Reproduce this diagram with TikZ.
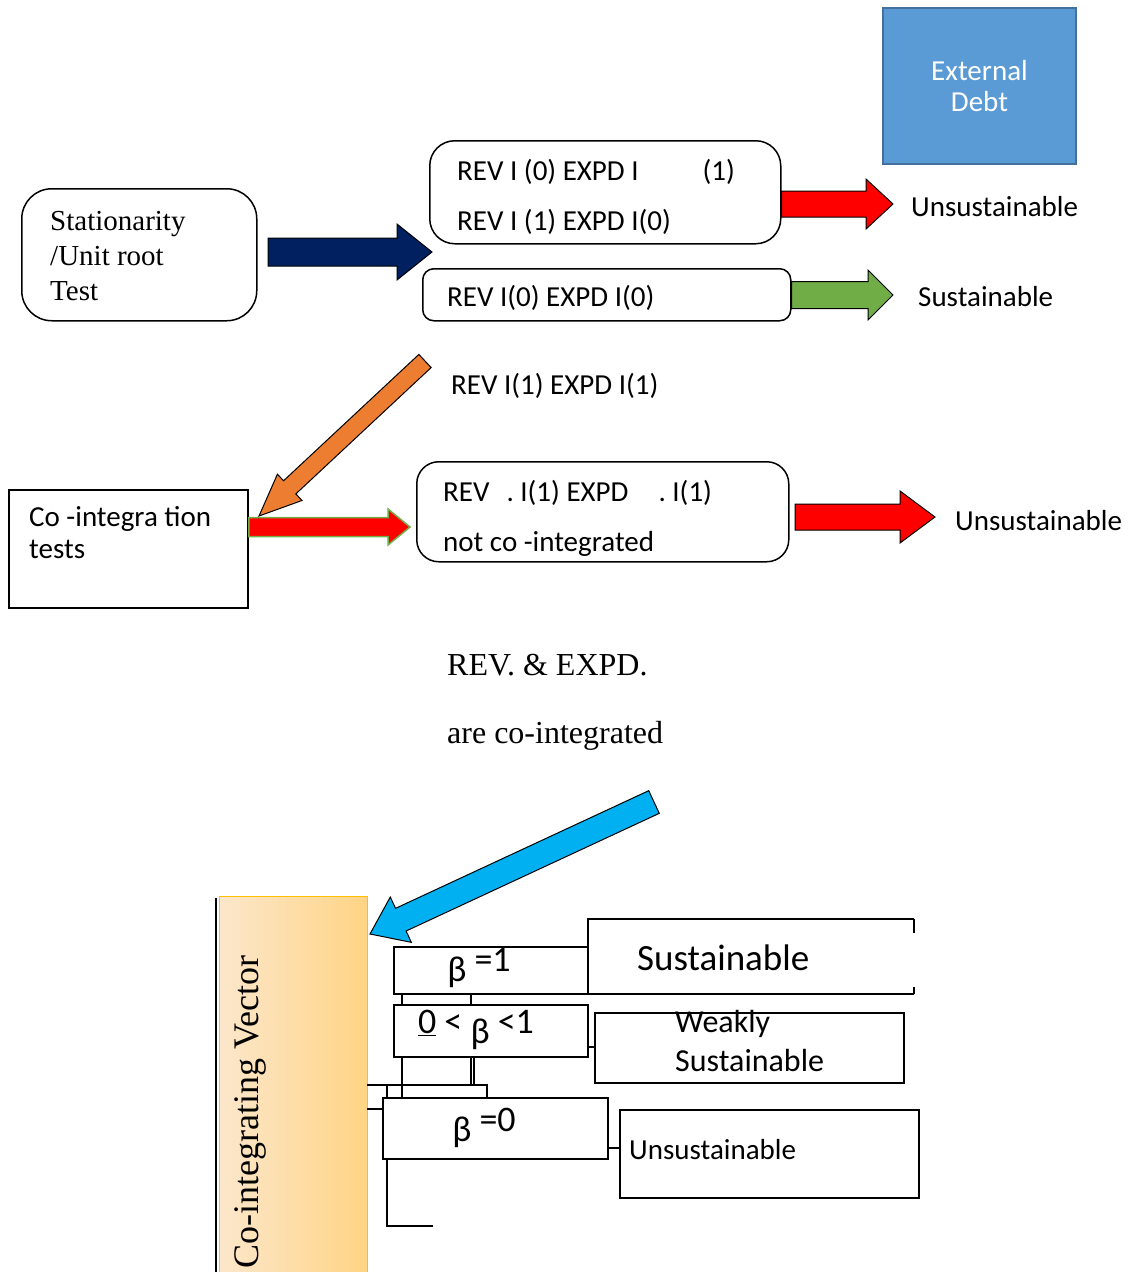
\documentclass[tikz,border=0pt]{standalone}
\usepackage{fontspec}
\setmainfont{Carlito}
\newfontfamily\tnr{Liberation Serif}
\usetikzlibrary{calc, positioning}

\definecolor{navyfill}{HTML}{002060}
\definecolor{debtblue}{HTML}{5B9BD5}
\definecolor{debtedge}{HTML}{41719C}
\definecolor{okgreen}{HTML}{70AD47}
\definecolor{arrorange}{HTML}{ED7D31}
\definecolor{arrcyan}{HTML}{00B0F0}
\definecolor{vecleft}{HTML}{FCE7CB}
\definecolor{vecright}{HTML}{FFD485}
\definecolor{vecedge}{HTML}{FFC000}

% block arrow: style, tail, tip, half shaft, half head, head length
\newcommand{\blockarrow}[6]{%
  \coordinate (ba-base) at ($(#3)!#6!(#2)$);
  \draw[#1] ($(#2)!#4!90:(#3)$) -- ($(ba-base)!#4!-90:(#2)$)
    -- ($(ba-base)!#5!-90:(#2)$) -- (#3) -- ($(ba-base)!#5!90:(#2)$)
    -- ($(ba-base)!#4!90:(#2)$) -- ($(#2)!#4!-90:(#3)$) -- cycle;
}

\tikzset{
  rbox/.style={draw, line width=1.5pt, anchor=north west, inner sep=0pt},
  sqbox/.style={draw, line width=1.8pt, anchor=north west, inner sep=0pt},
  lbl/.style={font=\fontsize{29pt}{35pt}\selectfont, inner sep=0pt},
  twoline/.style={lbl, anchor=west, align=left, font=\fontsize{29pt}{50pt}\selectfont},
  serif/.style={font=\tnr\fontsize{32pt}{37pt}\selectfont, inner sep=0pt},
  beta/.style={font=\fontsize{36pt}{40pt}\selectfont, inner sep=0pt},
}

\begin{document}
\begin{tikzpicture}[x=1pt, y=-1pt, line join=miter]
    \useasboundingbox (0,0) rectangle (1128,1272);

    % --- Debt box ---
    \node[draw=debtedge, fill=debtblue, line width=2pt, minimum width=193pt,
      minimum height=156pt, text=white, align=center,
      font=\fontsize{29pt}{31pt}\selectfont] (debt) at (979.5,86) {External\\Debt};

    % --- Unit root stage ---
    \node[rbox, rounded corners=30pt, minimum width=235pt, minimum height=132pt] (stat) at (21,188) {};
    \node[lbl, anchor=west, align=left, font=\tnr\fontsize{29pt}{35pt}\selectfont]
      (statt) at (50,256) {Stationarity\\/Unit root\\Test};

    \node[rbox, rounded corners=25pt, minimum width=351pt, minimum height=103pt] (rev1) at (429,140) {};
    \node[twoline] (rev1t) at (457,197) {REV I (0) EXPD I\hspace{64pt}(1)\\REV I (1) EXPD I(0)};
    \node[rbox, rounded corners=11pt, minimum width=368pt, minimum height=52pt] (rev2) at (422,268) {};
    \node[lbl, anchor=west] (rev2t) at (447,298) {REV I(0) EXPD I(0)};

    \coordinate (navyT) at (268,252);
    \coordinate (navyH) at (432,252);
    \blockarrow{fill=navyfill, draw=black, line width=1pt}{navyT}{navyH}{14pt}{28pt}{35pt}

    \coordinate (red1T) at (rev1.east |- 0,204);
    \coordinate (red1H) at (893,204);
    \blockarrow{fill=red, draw=black, line width=1pt}{red1T}{red1H}{13pt}{25pt}{27pt}
    \node[lbl, anchor=west] (uns1) at (911,207) {Unsustainable};

    \coordinate (grnT) at (rev2.east |- 0,295);
    \coordinate (grnH) at (893,295);
    \blockarrow{fill=okgreen, draw=black, line width=1pt}{grnT}{grnH}{13.5pt}{25pt}{25pt}
    \node[lbl, anchor=west] (sus1) at (918,297) {Sustainable};

    % --- Co-integration stage ---
    \node[lbl, anchor=west] (rev11) at (451,386) {REV I(1) EXPD I(1)};
    \coordinate (orgT) at (425,361);
    \coordinate (orgH) at (259,516);
    \blockarrow{fill=arrorange, draw=black, line width=1pt}{orgT}{orgH}{9pt}{18pt}{42pt}

    \node[sqbox, minimum width=239pt, minimum height=118pt] (coint) at (8,489) {};
    \node[lbl, anchor=west, align=left, font=\fontsize{29pt}{32pt}\selectfont]
      (ctext) at (29,533) {Co -integra tion\\tests};

    \coordinate (red2T) at (coint.east |- 0,527);
    \coordinate (red2H) at (410,527);
    \blockarrow{fill=red, draw=okgreen, line width=1.5pt}{red2T}{red2H}{9.5pt}{18pt}{22pt}

    \node[rbox, rounded corners=22pt, minimum width=372pt, minimum height=100pt] (rev3) at (416,461) {};
    \node[twoline] (rev3t) at (443,518) {REV\hspace{17pt}. I(1) EXPD\hspace{30pt}. I(1)\\not co -integrated};

    \coordinate (red3T) at (795,517);
    \coordinate (red3H) at (935,517);
    \blockarrow{fill=red, draw=black, line width=1pt}{red3T}{red3H}{13pt}{26pt}{35pt}
    \node[lbl, anchor=west] (uns2) at (955,521) {Unsustainable};

    \node[serif, anchor=west] (coi1) at (447,665) {REV. \& EXPD.};
    \node[serif, anchor=west] (coi2) at (447,736) {are co-integrated};

    % --- Co-integrating vector ---
    \coordinate (cyanT) at (654,802);
    \coordinate (cyanH) at (370,934);
    \blockarrow{fill=arrcyan, draw=black, line width=1pt}{cyanT}{cyanH}{12.5pt}{25pt}{34pt}

    \shade[left color=vecleft, right color=vecright] (219,896) rectangle (367,1280);
    \draw[vecedge, line width=1pt] (219,1280) -- (219,896) -- (367,896) -- (367,1280);
    \draw[line width=1.5pt] (216,898) -- (216,1272);
    \node[anchor=base west, rotate=90, inner sep=0pt,
      font=\tnr\fontsize{36pt}{40pt}\selectfont] (vec) at (258,1269) {Co-integrating Vector};

    \node[sqbox, minimum width=194pt, minimum height=47pt] (b1) at (393,946) {};
    \node[beta] (b1t) at (479,968) {\raisebox{-0.28em}{β} =1};
    \node[sqbox, minimum width=194pt, minimum height=52pt] (b2) at (393,1004) {};
    \node[beta] (b2t) at (476,1030) {\underline{0} < \raisebox{-0.28em}{β} <1};
    \node[sqbox, minimum width=225pt, minimum height=61pt] (b3) at (382,1097) {};
    \node[beta] (b3t) at (484,1128) {\raisebox{-0.28em}{β} =0};

    % --- Outcome boxes ---
    \coordinate (s1nw) at (588,919);
    \coordinate (s1se) at (914,994);
    \draw[line width=1.8pt] (s1nw -| s1se) -- (s1nw) -- (s1nw |- s1se) -- (s1se);
    \draw[line width=1.8pt] (s1nw -| s1se) -- ++(0,14) (s1se) -- ++(0,-7);
    \node[font=\fontsize{37pt}{40pt}\selectfont, inner sep=0pt, anchor=west]
      (s1) at (637,958) {Sustainable};

    \node[sqbox, minimum width=309pt, minimum height=70pt] (s2) at (594,1012) {};
    \node[anchor=north west, align=left, inner sep=0pt,
      font=\fontsize{32pt}{39pt}\selectfont] (s2t) at (675,1010) {Weakly\\Sustainable};

    \node[sqbox, minimum width=299pt, minimum height=88pt] (s3) at (619,1109) {};
    \node[lbl, anchor=west] (s3t) at (629,1150) {Unsustainable};

    % --- Bracket lines ---
    \draw[line width=1.5pt] (b2.east |- 0,1047) -- (s2.west |- 0,1047);
    \draw[line width=1.5pt] (b3.east |- 0,1148) -- (s3.west |- 0,1148);
    \draw[line width=1.5pt] (402,993) -- (402,1004) (471,993) -- (471,1004);
    \draw[line width=1.5pt] (402,1056) -- (402,1097);
    \draw[line width=1.5pt] (471,1056) -- (471,1085) (474,1056) -- (474,1085);
    \draw[line width=1.5pt] (367,1085) -- (487,1085) -- (487,1097);
    \draw[line width=1.5pt] (387,1085) -- (387,1097);
    \draw[line width=1.5pt] (367,1109) -- (382,1109);
    \draw[line width=1.5pt] (387,1158) -- (387,1226) -- (433,1226);
\end{tikzpicture}
\end{document}
